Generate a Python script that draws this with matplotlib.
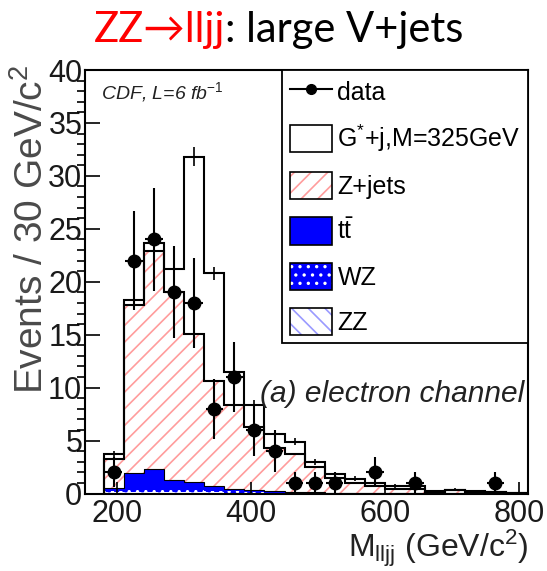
import numpy as np
import matplotlib
matplotlib.use("Agg")
import matplotlib.pyplot as plt
from matplotlib.patches import Patch
from matplotlib.lines import Line2D

plt.rcParams["font.family"] = ["Liberation Sans", "DejaVu Sans"]
plt.rcParams["mathtext.fontset"] = "custom"
plt.rcParams["mathtext.rm"] = "Liberation Sans"
plt.rcParams["mathtext.it"] = "Liberation Sans:italic"
plt.rcParams["mathtext.bf"] = "Liberation Sans:bold"
plt.rcParams["hatch.linewidth"] = 1.2

# 30 GeV bins, 180 -> 810 GeV/c^2
edges = np.arange(180, 811, 30)

# stacked MC, bottom to top
zz = [0.10, 0.12, 0.15, 0.15, 0.13, 0.10, 0.07, 0.05, 0.03, 0.03, 0.02,
      0.02, 0.01, 0.01, 0.01, 0.01, 0.00, 0.00, 0.00, 0.00, 0.00]
wz = [0.15, 0.20, 0.22, 0.22, 0.20, 0.17, 0.12, 0.09, 0.06, 0.05, 0.03,
      0.02, 0.02, 0.01, 0.01, 0.01, 0.01, 0.00, 0.00, 0.00, 0.00]
ttbar = [0.30, 1.63, 1.96, 0.95, 0.74, 0.48, 0.28, 0.17, 0.11, 0.07, 0.05,
         0.04, 0.02, 0.02, 0.01, 0.00, 0.01, 0.01, 0.01, 0.01, 0.00]
zjets = [2.75, 15.85, 20.57, 17.68, 14.03, 9.85, 7.93, 5.99, 4.10, 3.55, 2.40,
         1.42, 0.95, 0.66, 0.42, 0.38, 0.13, 0.29, 0.09, 0.09, 0.03]
signal = [0.40, 0.50, 0.80, 2.20, 16.70, 10.20, 3.10, 2.10, 1.30, 1.20, 0.50,
          0.30, 0.40, 0.30, 0.25, 0.30, 0.10, 0.05, 0.10, 0.05, 0.02]
signal_err = [0.30, 0.50, 0.50, 0.60, 0.90, 0.60, 0.40, 0.40, 0.30, 0.30, 0.30,
              0.25, 0.25, 0.20, 0.20, 0.20, 0.10, 0.15, 0.10, 0.10, 0.05]

# observed events per bin
data = [2, 22, 24, 19, 18, 8, 11, 6, 4, 1, 1,
        1, 0, 2, 0, 1, 0, 0, 0, 1, 0]

PINK = "#ff9c9c"
BLUE = "#0000ff"
LIGHTBLUE = "#9a9aff"
LW = 1.5

fig = plt.figure(figsize=(5.47, 5.71), dpi=100)
ax = fig.add_axes([85 / 547, 1 - 493.5 / 571, (528.3 - 85) / 547, (493.5 - 70) / 571])

layers = [
    (zz, dict(facecolor="white", edgecolor=LIGHTBLUE, hatch="\\\\")),
    (wz, dict(facecolor=BLUE, edgecolor="white", hatch="..")),
    (ttbar, dict(facecolor=BLUE, edgecolor=BLUE)),
    (zjets, dict(facecolor="white", edgecolor=PINK, hatch="//")),
]
base = np.zeros(len(data))
for vals, style in layers:
    top = base + np.asarray(vals)
    ax.stairs(top, edges, baseline=base, fill=True, linewidth=0, **style)
    base = top
blue_top = np.asarray(zz) + np.asarray(wz) + np.asarray(ttbar)
ax.stairs(blue_top, edges, color="black", linewidth=0.8)

bkg_top = base
ax.stairs(bkg_top, edges, baseline=0, color="black", linewidth=LW)
total = bkg_top + np.asarray(signal)
ax.stairs(total, edges, baseline=0, color="black", linewidth=LW)

centers = 0.5 * (edges[:-1] + edges[1:])
ax.errorbar(centers, total, yerr=signal_err, fmt="none", ecolor="black",
            elinewidth=1.2)

counts = np.asarray(data, dtype=float)
has = counts > 0
ax.errorbar(centers[has], counts[has], yerr=np.sqrt(counts[has]), xerr=13,
            fmt="o", color="black", markersize=9, elinewidth=LW, capsize=0)

ax.set_xlim(152, 814)
ax.set_ylim(0, 40)
ax.set_xticks([200, 400, 600, 800])
ax.set_yticks(np.arange(0, 41, 5))
ax.set_yticks(np.arange(0, 41, 1), minor=True)
ax.tick_params(axis="both", direction="in", top=False, right=False,
               labelsize=22, width=1.2, colors="black", labelcolor="#1a1a1a")
ax.tick_params(axis="y", which="major", length=11, pad=2)
ax.tick_params(axis="y", which="minor", length=6, width=1.2)
ax.tick_params(axis="x", which="major", length=9, pad=4)
for sp in ax.spines.values():
    sp.set_linewidth(1.5)

ax.set_ylabel("Events / 30 GeV/c$^{2}$", loc="top", fontsize=28,
              color="#4a4a4a")
ax.yaxis.set_label_coords(-0.076, 1.012)
ax.set_xlabel("M$_{\\mathrm{lljj}}$ (GeV/c$^{2}$)", loc="right", fontsize=23,
              color="#222222", labelpad=-1)

ax.text(0.035, 0.975, "CDF, L=6 fb$^{\\mathit{-1}}$", transform=ax.transAxes,
        ha="left", va="top", fontsize=14, style="italic", color="#222222")
ax.text(0.99, 0.235, "(a) electron channel", transform=ax.transAxes,
        ha="right", va="center", fontsize=21.5, style="italic", color="#222222")

handles = [
    Line2D([], [], color="black", marker="o", markersize=7, linewidth=LW),
    Patch(facecolor="white", edgecolor="black", linewidth=1.2),
    (Patch(facecolor="white", edgecolor=PINK, hatch="//", linewidth=0),
     Patch(facecolor="none", edgecolor="black", linewidth=1.2)),
    Patch(facecolor=BLUE, edgecolor="black", linewidth=1.2),
    (Patch(facecolor=BLUE, edgecolor="white", hatch="..", linewidth=0),
     Patch(facecolor="none", edgecolor="black", linewidth=1.2)),
    (Patch(facecolor="white", edgecolor=LIGHTBLUE, hatch="\\\\", linewidth=0),
     Patch(facecolor="none", edgecolor="black", linewidth=1.2)),
]
labels = ["data", "G$^{*}$+j,M=325GeV", "Z+jets", "$\\mathrm{t\\bar{t}}$", "WZ", "ZZ"]
leg = ax.legend(handles, labels, loc="upper right", bbox_to_anchor=(1, 1),
                borderaxespad=0, fontsize=18, frameon=True, fancybox=False,
                handlelength=1.7, handleheight=1.3, handletextpad=0.2,
                labelspacing=0.72, borderpad=0.3)
leg.get_frame().set_edgecolor("black")
leg.get_frame().set_linewidth(1.3)
leg.get_frame().set_alpha(1)

# title: red process name followed by black description
xs = 225 / 547
fig.text(xs, 1 - 42 / 571, "ZZ\u2192lljj", ha="right", va="baseline",
         fontsize=30, color="#ff0000", family=["Lato", "DejaVu Sans"])
fig.text(xs, 1 - 42 / 571, ": large V+jets", ha="left", va="baseline",
         fontsize=30, color="black", family=["Lato", "DejaVu Sans"])

fig.savefig("out.png", dpi=100)
